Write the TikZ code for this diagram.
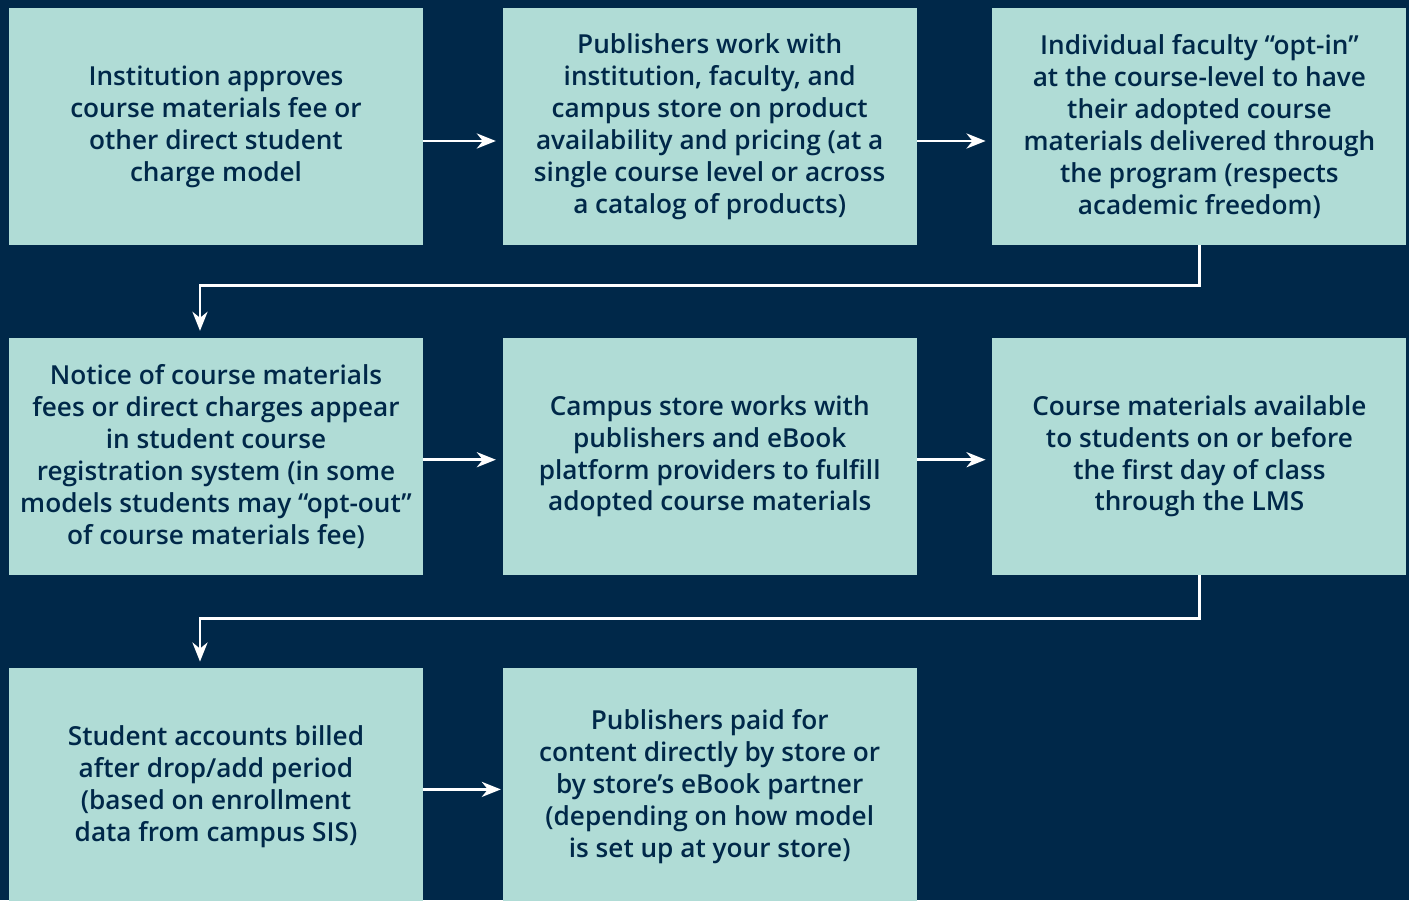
\documentclass[tikz,border=0pt]{standalone}
\usepackage{fontspec}
\setmainfont{Open Sans Semibold}
\usetikzlibrary{positioning, arrows.meta}
\definecolor{navy}{RGB}{0,40,73}
\definecolor{mint}{RGB}{176,220,214}

\begin{document}
\begin{tikzpicture}[
    stepbox/.style={fill=mint, text=navy, minimum width=8.28cm, minimum height=4.74cm,
        align=center, inner sep=0pt, font=\fontsize{14.9}{18.2}\selectfont},
    flow/.style={draw=white, line width=1.7pt, shorten >=0.13cm,
        -{Stealth[length=0.38cm, width=0.3cm, inset=0.12cm]}}
]
    \fill[navy] (0,0) rectangle (28.18,18);
    \useasboundingbox (0,0) rectangle (28.18,18);
    % first row
    \node[stepbox] (a1) at (4.32,15.47) {Institution approves\\course materials fee or\\other direct student\\charge model};
    \node[stepbox, right=1.58cm of a1] (a2) {Publishers work with\\institution, faculty, and\\campus store on product\\availability and pricing (at a\\single course level or across\\a catalog of products)};
    \node[stepbox, right=1.5cm of a2] (a3) {Individual faculty “opt-in”\\at the course-level to have\\their adopted course\\materials delivered through\\the program (respects\\academic freedom)};
    % second row
    \node[stepbox, below=1.84cm of a1] (b1) {Notice of course materials\\fees or direct charges appear\\in student course\\registration system (in some\\models students may “opt-out”\\of course materials fee)};
    \node[stepbox, right=1.58cm of b1] (b2) {Campus store works with\\publishers and eBook\\platform providers to fulfill\\adopted course materials};
    \node[stepbox, right=1.5cm of b2] (b3) {Course materials available\\to students on or before\\the first day of class\\through the LMS};
    % third row
    \node[stepbox, below=1.86cm of b1] (c1) {Student accounts billed\\after drop/add period\\(based on enrollment\\data from campus SIS)};
    \node[stepbox, right=1.58cm of c1] (c2) {Publishers paid for\\content directly by store or\\by store’s eBook partner\\(depending on how model\\is set up at your store)};

    \draw[flow] ([yshift=-0.29cm]a1.east) -- ([yshift=-0.29cm]a2.west);
    \draw[flow] ([yshift=-0.29cm]a2.east) -- ([yshift=-0.29cm]a3.west);
    \draw[flow] (a3.south) -- ++(0,-0.8) -| ([xshift=-0.32cm]b1.north);
    \draw[flow] ([yshift=-0.07cm]b1.east) -- ([yshift=-0.07cm]b2.west);
    \draw[flow] ([yshift=-0.07cm]b2.east) -- ([yshift=-0.07cm]b3.west);
    \draw[flow] (b3.south) -- ++(0,-0.86) -| ([xshift=-0.32cm]c1.north);
    \draw[flow, shorten >=0.03cm] ([yshift=-0.05cm]c1.east) -- ([yshift=-0.05cm]c2.west);
\end{tikzpicture}
\end{document}
